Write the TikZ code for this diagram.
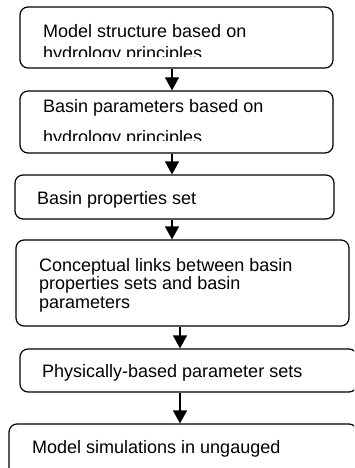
\documentclass[tikz,border=0pt]{standalone}
\usepackage{fontspec}
\setmainfont{Liberation Sans}
\usetikzlibrary{arrows.meta}
\tikzset{
  box/.style={draw=black, line width=1.2pt, rounded corners=8pt, inner sep=0pt, fill=none},
  txt/.style={anchor=base west, inner sep=0pt, font=\fontsize{18}{20}\selectfont},
  arr/.style={draw=black, line width=1.2pt, -{Triangle[width=14pt,length=13pt]}}
}
\begin{document}
\begin{tikzpicture}[x=1pt,y=-1pt]
\clip (0,0) rectangle (354,468);
\useasboundingbox (0,0) rectangle (354,468);
% boxes
\node[box, minimum width=313pt, minimum height=61pt] (b1) at (176.5,37.5) {};
\node[box, minimum width=313pt, minimum height=62pt] (b2) at (176.5,122) {};
\node[box, minimum width=319pt, minimum height=44pt] (b3) at (174.5,197) {};
\node[box, minimum width=333pt, minimum height=86pt] (b4) at (182.5,283) {};
\node[box, minimum width=337pt, minimum height=43pt] (b5) at (188.5,370.5) {};
\node[box, minimum width=348pt, minimum height=60pt] (b6) at (183,454) {};
% texts
\begin{scope}
\clip (0,0) rectangle (354,56.5);
\node[txt] (t1a) at (43,38) {Model structure based on};
\node[txt] (t1b) at (43,59.5) {hydrology principles};
\end{scope}
\begin{scope}
\clip (0,80) rectangle (354,140);
\node[txt] (t2a) at (43,113) {Basin parameters based on};
\node[txt] (t2b) at (43,143) {hydrology principles};
\end{scope}
\node[txt] (t3) at (37,204) {Basin properties set};
\begin{scope}
\clip (0,230) rectangle (354,312);
\node[txt] (t4a) at (39,271) {Conceptual links between basin};
\node[txt] (t4b) at (39,289.5) {properties sets and basin};
\node[txt] (t4c) at (39,308) {parameters};
\end{scope}
\node[txt] (t5) at (42,377) {Physically-based parameter sets};
\node[txt] (t6) at (32,453) {Model simulations in ungauged};
% arrows
\coordinate (xa) at (172,0);
\coordinate (xb) at (180,0);
\draw[arr] (b1.south -| xa) -- (b2.north -| xa);
\draw[arr] (b2.south -| xa) -- (b3.north -| xa);
\draw[arr] (b3.south -| xa) -- (b4.north -| xa);
\draw[arr] (b4.south -| xb) -- (b5.north -| xb);
\draw[arr] (b5.south -| xb) -- (b6.north -| xb);
\end{tikzpicture}
\end{document}
